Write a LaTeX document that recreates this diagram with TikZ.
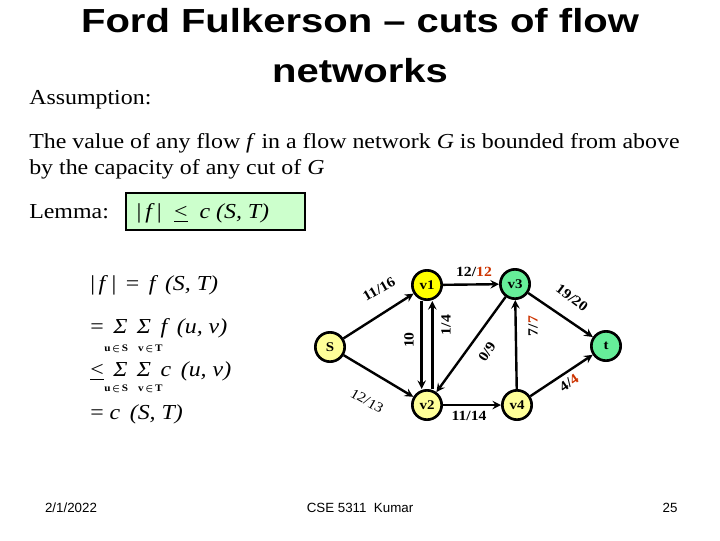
\documentclass[tikz,border=0pt]{standalone}
\usepackage{fontspec}
\usepackage{amsmath}
\usepackage{xcolor}
\usepackage{tikz}
\setmainfont[FakeStretch=1.12]{Liberation Serif}
\newfontfamily\titlefont[FakeStretch=1.2]{Liberation Sans}
\newfontfamily\footfont{Liberation Sans}

\definecolor{vyellow}{RGB}{255,255,0}
\definecolor{vpale}{RGB}{255,255,153}
\definecolor{vgreen}{RGB}{102,238,153}
\definecolor{lemmabg}{RGB}{204,255,204}
\definecolor{fullred}{RGB}{204,51,0}

\tikzset{
  vtx/.style={circle, draw=black, line width=2pt, minimum size=22pt, inner sep=0pt,
    font=\fontsize{10}{12}\selectfont\bfseries},
  flow/.style={->, >=stealth, line width=1.8pt},
  lbl/.style={inner sep=0.75pt, font=\fontsize{10.5}{12}\selectfont\bfseries},
  body/.style={inner sep=0pt, anchor=base west, font=\fontsize{16}{19.5}\selectfont},
  sub/.style={inner sep=0pt, anchor=base west, font=\fontsize{7.5}{9}\selectfont\bfseries},
  foot/.style={inner sep=0pt, anchor=base, font=\footfont\fontsize{10}{12}\selectfont}
}

\begin{document}
\begin{tikzpicture}[x=0.75pt,y=0.75pt,yscale=-1,xscale=1]

\useasboundingbox (0,0) rectangle (720,540);

% heading
\node (title) [inner sep=0pt, anchor=north, align=center,
  font=\titlefont\bfseries\fontsize{25}{37.5}\selectfont] at (360,8) {Ford Fulkerson – cuts of flow\\networks};
\node (assume) [body] at (29,104) {Assumption:};

\node (claim) [body, align=left, anchor=north west] at (29,133)
  {The value of any flow \textit{f} in a flow network \textit{G} is bounded from above\\
   by the capacity of any cut of \textit{G}};

% lemma
\node (lemma) [body] at (29,218) {Lemma:};
\draw [line width=2pt, fill=lemmabg] (126,193) rectangle (305,230);
\node (bound) [body] at (135,218) {\textit{|\,f\,|}\ \ \underline{<}\ \ \textit{c (S, T)}};

% derivation
\node (eqa) [body] at (90,290) {|\,\textit{f}\,|\, =\, \textit{f\, (S, T)}};
\node (eqb) [body] at (90,333) {=\, \textit{Σ\, Σ\, f\, (u, v)}};
\node (suba) [sub] at (104,351) {u\,$\boldsymbol{\in}$\,S\quad v\,$\boldsymbol{\in}$\,T};
\node (eqc) [body] at (90,376) {\underline{<}\, \textit{Σ\, Σ\, c\, (u, v)}};
\node (subb) [sub] at (104,391) {u\,$\boldsymbol{\in}$\,S\quad v\,$\boldsymbol{\in}$\,T};
\node (eqd) [body] at (90,419) {= \textit{c\, (S, T)}};

% network
\node (S)  [vtx, fill=vpale]   at (330,347) {S};
\node (v1) [vtx, fill=vyellow] at (427,285) {v1};
\node (v2) [vtx, fill=vpale]   at (427,405) {v2};
\node (v3) [vtx, fill=vgreen]  at (515,284) {v3};
\node (v4) [vtx, fill=vpale]   at (517,405) {v4};
\node (t)  [vtx, fill=vgreen]  at (606,346) {t};

\draw [flow] (S) -- (v1);
\draw [flow] (S) -- (v2);
\draw [flow] ([xshift=-4pt]v1.south) -- ([xshift=-4pt]v2.north);
\draw [flow] ([xshift=4pt]v2.north) -- ([xshift=4pt]v1.south);
\draw [flow] (v1) -- (v3);
\draw [flow] (v3) -- (v2);
\draw [flow] (v4) -- (v3);
\draw [flow] (v2) -- (v4);
\draw [flow] (v3) -- (t);
\draw [flow] (v4) -- (t);

\node (lsv1)  [lbl, rotate=30]  at (379,289) {11/16};
\node (lsv2)  [lbl, rotate=-30, font=\fontsize{10.5}{12}\selectfont] at (367,401) {12/13};
\node (l12)   [lbl, rotate=90]  at (409,340) {10};
\node (l21)   [lbl, rotate=90]  at (446,325) {1/4};
\node (l13)   [lbl]             at (474,272) {12/\textcolor{fullred}{12}};
\node (l32)   [lbl, rotate=57]  at (487,352) {0/9};
\node (l43)   [lbl, rotate=90]  at (533,326) {7/\textcolor{fullred}{7}};
\node (l3t)   [lbl, rotate=-37] at (572,298) {19/20};
\node (l4t)   [lbl, rotate=35]  at (569,383) {4/\textcolor{fullred}{4}};
\node (l24)   [lbl]             at (469,416) {11/14};

% footer
\node (date)  [foot] at (71,512)  {2/1/2022};
\node (course)[foot] at (360,512) {CSE 5311\ \ Kumar};
\node (page)  [foot] at (670,512) {25};

\end{tikzpicture}
\end{document}
